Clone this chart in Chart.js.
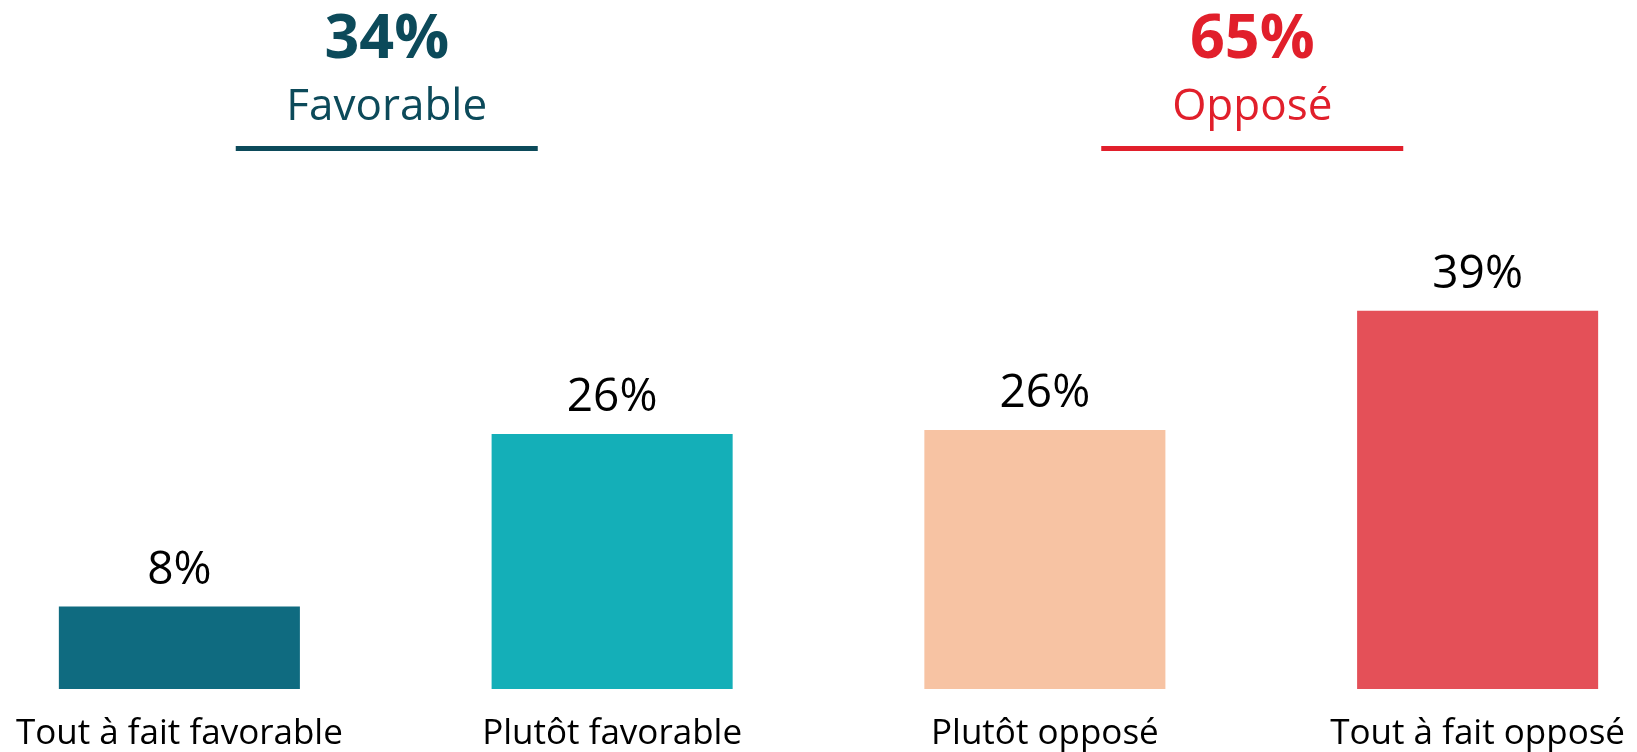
<!DOCTYPE html>
<html>
	<head>
		<meta charset="utf-8">
		<title>Favorable / Opposé</title>
		<script src="https://cdn.jsdelivr.net/npm/chart.js@4.4.1/dist/chart.umd.min.js"></script>
		<style>
			html, body {margin: 0; padding: 0; background: #ffffff; overflow: hidden;}
			#wrap {position: absolute; left: -37px; top: 0; width: 1731px; height: 779px;}
		</style>
	</head>
	<body>
		<div id="wrap"><canvas id="myChart"></canvas></div>
		<script>
			var categories = ['Tout à fait favorable', 'Plutôt favorable', 'Plutôt opposé', 'Tout à fait opposé'];
			var values = [8.5, 26.3, 26.7, 39];
			var valueLabels = ['8%', '26%', '26%', '39%'];
			var barColors = ['#0f6b80', '#14afb8', '#f7c3a3', '#e45058'];

			var groupTotals = ['34%', '65%'];
			var groupNames = ['Favorable', 'Opposé'];
			var groupColors = ['#0c4a5a', '#e11f2b'];

			var FONT = '"Open Sans", "Noto Sans", sans-serif';

			// valeurs au-dessus des barres + titres de groupe en haut
			var labelsPlugin = {
				id: 'labels',
				afterDatasetsDraw: function (chart) {
					var ctx = chart.ctx;
					var meta = chart.getDatasetMeta(0);
					var xs = chart.scales.x;
					ctx.save();
					ctx.textAlign = 'center';
					ctx.textBaseline = 'alphabetic';
					ctx.fillStyle = '#000000';
					ctx.font = '46px ' + FONT;
					meta.data.forEach(function (bar, i) {
						ctx.fillText(valueLabels[i], bar.x, bar.y - 23);
					});

					for (var g = 0; g < 2; g++) {
						var cx = (xs.getPixelForValue(g * 2) + xs.getPixelForValue(g * 2 + 1)) / 2 - 9;
						ctx.fillStyle = groupColors[g];
						ctx.font = 'bold 61px ' + FONT;
						ctx.fillText(groupTotals[g], cx, 58);
						ctx.font = '44px ' + FONT;
						ctx.fillText(groupNames[g], cx, 120);
						ctx.fillRect(cx - 151, 146, 302, 5);
					}
					ctx.restore();
				}
			};

			var chart = new Chart(document.getElementById('myChart'), {
				type: 'bar',
				data: {
					labels: categories,
					datasets: [{
						data: values,
						backgroundColor: barColors,
						barPercentage: 0.557,
						categoryPercentage: 1
					}]
				},
				options: {
					responsive: true,
					maintainAspectRatio: false,
					animation: {
						duration: 0
					},
					layout: {padding: {top: 204, left: 0, right: 0, bottom: 0}},
					plugins: {
						legend: {display: false},
						tooltip: {enabled: false}
					},
					scales: {
						x: {
							grid: {display: false, drawTicks: false},
							border: {display: false},
							ticks: {
								color: '#000000',
								font: {family: FONT, size: 35},
								padding: 24,
								maxRotation: 0,
								autoSkip: false
							}
						},
						y: {
							display: false,
							min: 0,
							max: 50
						}
					}
				},
				plugins: [labelsPlugin]
			});
		</script>
	</body>
</html>
